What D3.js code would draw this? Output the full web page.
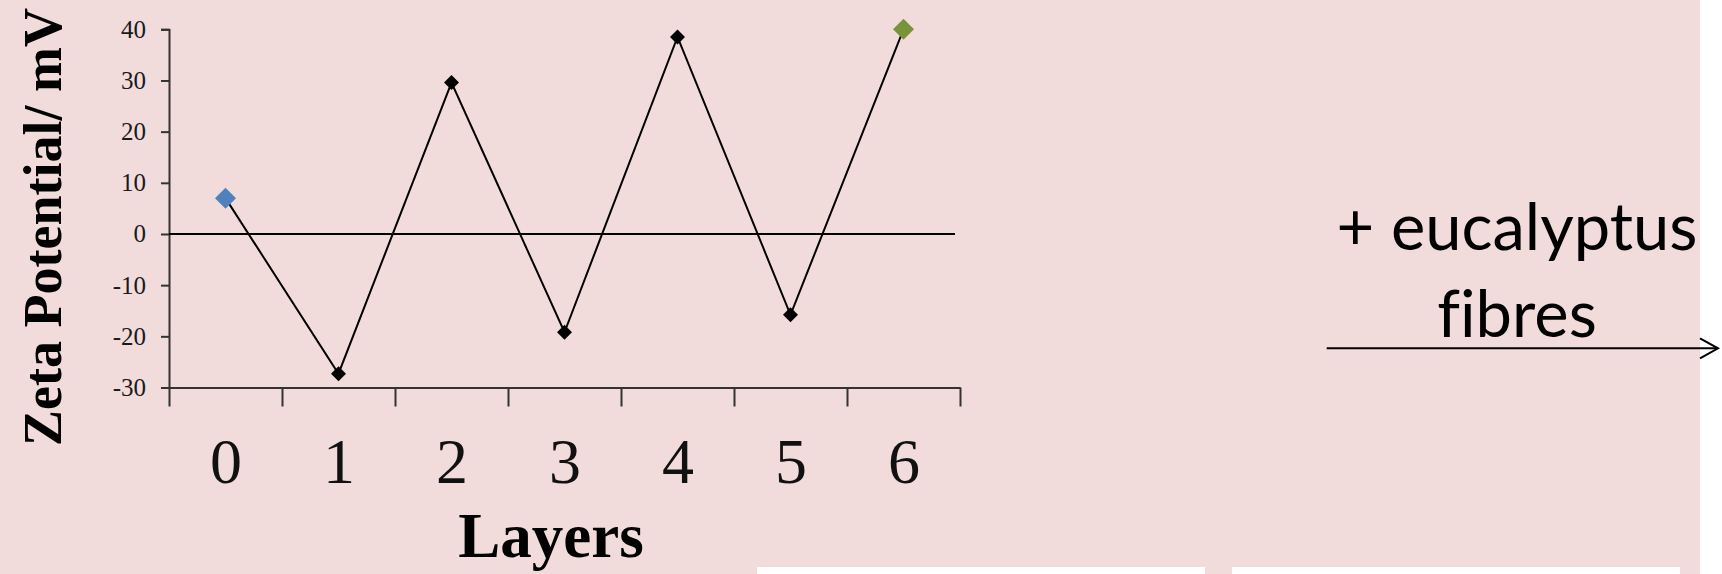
<!DOCTYPE html>
<html>
<head>
<meta charset="utf-8">
<script src="https://cdn.jsdelivr.net/npm/d3@7.9.0/dist/d3.min.js"></script>
<style>
  html, body { margin: 0; padding: 0; background: #ffffff; }
  svg { display: block; }
  .note text { font-variant-ligatures: none; font-feature-settings: "liga" 0; }
</style>
</head>
<body>
<svg id="chart" width="1722" height="574"></svg>
<script>
// data
const layers = [0, 1, 2, 3, 4, 5, 6];
const zeta = [7, -27.3, 29.6, -19.2, 38.5, -15.8, 40];
const yTicks = [-30, -20, -10, 0, 10, 20, 30, 40];
const pointColors = ['#4f81bd', '#000000', '#000000', '#000000', '#000000', '#000000', '#77933c'];
const noteLines = ['+ eucalyptus', 'fibres'];

const svg = d3.select('#chart');

// slide background
svg.append('rect').attr('x', 0).attr('y', 0).attr('width', 1700).attr('height', 574).attr('fill', '#f2dcdb');
svg.append('rect').attr('x', 757).attr('y', 567).attr('width', 448).attr('height', 7).attr('fill', '#ffffff');
svg.append('rect').attr('x', 1232).attr('y', 567).attr('width', 448).attr('height', 7).attr('fill', '#ffffff');

const x = d3.scaleLinear().domain([-0.5, 6.5]).range([169, 960]);
const y = d3.scaleLinear().domain([-30, 40]).range([387.5, 29.3]);

// y axis (plain hyphen for negatives, like the slide)
let yAxis = svg.append('g')
    .attr('transform', 'translate(169,0)')
    .call(d3.axisLeft(y).tickValues(yTicks).tickSize(8).tickPadding(15).tickFormat(d => String(d)));
yAxis.select('.domain').attr('stroke', '#333').attr('stroke-width', 2);
yAxis.selectAll('.tick line').attr('stroke', '#333').attr('stroke-width', 2);
yAxis.selectAll('.tick text')
    .attr('font-family', '"Liberation Serif", "Times New Roman", serif')
    .attr('font-size', 25).attr('fill', '#1a1a1a');

// x axis: ticks between categories
let xAxis = svg.append('g')
    .attr('transform', `translate(0,${y(-30)})`)
    .call(d3.axisBottom(x).tickValues(d3.range(-0.5, 7, 1)).tickSize(19).tickSizeOuter(0).tickFormat(''));
xAxis.select('.domain').attr('stroke', '#333').attr('stroke-width', 2);
xAxis.selectAll('.tick line').attr('stroke', '#333').attr('stroke-width', 2);

// category labels in the middle of each slot
let xLabels = svg.append('g')
    .attr('transform', `translate(0,${y(-30)})`)
    .call(d3.axisBottom(x).tickValues(layers).tickSize(0).tickPadding(50).tickFormat(d => String(d)));
xLabels.select('.domain').remove();
xLabels.selectAll('.tick text')
    .attr('font-family', '"Liberation Serif", "Times New Roman", serif')
    .attr('font-size', 64).attr('fill', '#111');

// zero line
svg.append('line')
    .attr('x1', x(-0.5)).attr('x2', 955)
    .attr('y1', y(0)).attr('y2', y(0))
    .attr('stroke', '#000').attr('stroke-width', 2);

// series line
let line = d3.line().x((d, i) => x(layers[i])).y(d => y(d));
svg.append('path')
    .attr('d', line(zeta))
    .attr('fill', 'none')
    .attr('stroke', '#000')
    .attr('stroke-width', 2);

// diamond markers
zeta.forEach((v, i) => {
    let big = pointColors[i] !== '#000000';
    svg.append('path')
        .attr('d', d3.symbol(d3.symbolSquare, big ? 220 : 112)())
        .attr('transform', `translate(${x(layers[i])},${y(v)}) rotate(45)`)
        .attr('fill', pointColors[i]);
});

// axis titles
svg.append('text')
    .attr('transform', 'translate(61,227) rotate(-90)')
    .attr('text-anchor', 'middle')
    .attr('font-family', '"Liberation Serif", "Times New Roman", serif')
    .attr('font-weight', 'bold')
    .attr('font-size', 54)
    .attr('fill', '#000')
    .text('Zeta Potential/ mV');

svg.append('text')
    .attr('x', 551).attr('y', 556.7)
    .attr('text-anchor', 'middle')
    .attr('font-family', '"Liberation Serif", "Times New Roman", serif')
    .attr('font-weight', 'bold')
    .attr('font-size', 63)
    .attr('fill', '#000')
    .text('Layers');

// note + arrow on the right
let note = svg.append('g')
    .attr('class', 'note')
    .attr('font-family', 'Lato, "Noto Sans", sans-serif')
    .attr('text-anchor', 'middle')
    .attr('fill', '#000');
let first = note.append('text').attr('x', 1517).attr('y', 250).attr('font-size', 66).text(noteLines[0]);
// shrink the font until the first line is as wide as on the slide
let fs = 66 * 361 / first.node().getComputedTextLength();
first.attr('font-size', fs);
note.append('text').attr('x', 1517).attr('y', 336.7).attr('font-size', fs).text(noteLines[1]);

svg.append('line')
    .attr('x1', 1326.7).attr('x2', 1717)
    .attr('y1', 348.3).attr('y2', 348.3)
    .attr('stroke', '#000').attr('stroke-width', 2);
svg.append('path')
    .attr('d', 'M1700,338.3 L1718,348.3 L1700,358.3')
    .attr('fill', 'none')
    .attr('stroke', '#000').attr('stroke-width', 2);
</script>
</body>
</html>
